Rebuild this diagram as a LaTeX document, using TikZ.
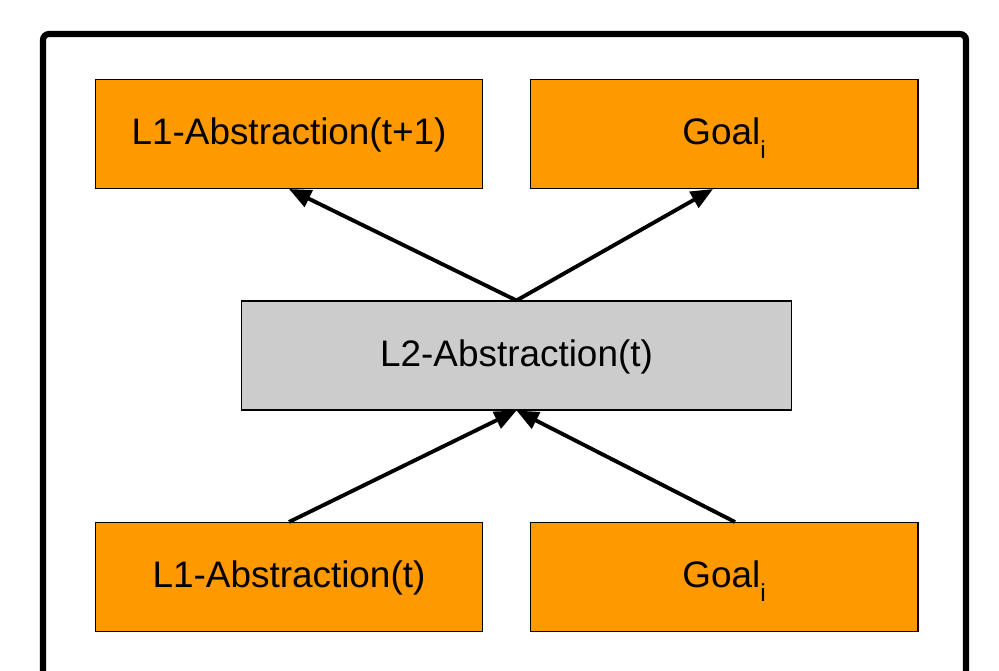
\documentclass[tikz,border=0pt]{standalone}
\usepackage{fontspec}
\setmainfont{Liberation Sans}
\usetikzlibrary{arrows.meta}

\definecolor{boxorange}{RGB}{255,153,0}
\definecolor{boxgray}{RGB}{204,204,204}
\newcommand{\lowsub}[1]{\raisebox{-0.36em}{\fontsize{14}{16}\selectfont #1}}

\begin{document}
\begin{tikzpicture}[
  x=0.02cm, y=-0.02cm,
  every node/.style={font=\fontsize{21}{25}\selectfont, text height=1.25em, text depth=0pt},
  level box/.style={draw, line width=0.6pt, fill=boxorange, inner sep=0pt,
    minimum width=7.76cm, minimum height=2.18cm},
  upper box/.style={level box, fill=boxgray, minimum width=11.02cm},
  flow/.style={-{Triangle[length=0.44cm,width=0.36cm]}, line width=2.2pt},
  frame/.style={line width=3.5pt, rounded corners=0.12cm}
]
\useasboundingbox (0,0) rectangle (999,671);

% outer frame, cut off at the bottom
\draw[frame] (43,671) -- (43,34) -- (966,34) -- (966,671);

\node[level box] (l1next) at (289,134) {L1-Abstraction(t+1)};
\node[level box] (goalnext) at (724,134) {Goal\lowsub{i}};
\node[upper box] (l2) at (516.5,355.5) {L2-Abstraction(t)};
\node[level box] (l1now) at (289,577) {L1-Abstraction(t)};
\node[level box] (goalnow) at (724,577) {Goal\lowsub{i}};

\draw[flow] (l2.north) -- (l1next.south);
\draw[flow] (l2.north) -- ([xshift=-0.22cm]goalnext.south);
\draw[flow] (l1now.north) -- (l2.south);
\draw[flow] ([xshift=0.22cm]goalnow.north) -- (l2.south);
\end{tikzpicture}
\end{document}
